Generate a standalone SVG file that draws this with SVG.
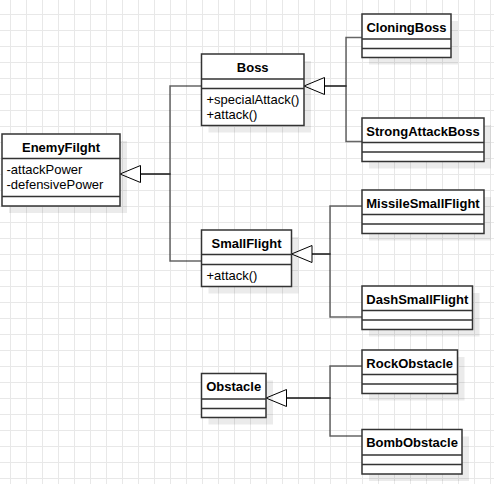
<svg xmlns="http://www.w3.org/2000/svg" width="494" height="484" viewBox="0 0 494 484">
  <style>
    .box { fill: #ffffff; stroke: #333333; stroke-width: 1.5; }
    .shadow { fill: #000000; fill-opacity: 0.08; stroke: none; }
    .sep { stroke: #333333; stroke-width: 1.5; fill: none; }
    .name { font-family: "Liberation Sans", Arial, sans-serif; font-size: 13px; font-weight: bold; fill: #000000; text-anchor: middle; }
    .member { font-family: "Liberation Sans", Arial, sans-serif; font-size: 13px; fill: #000000; }
    .edge { fill: none; stroke: #000000; stroke-opacity: 0.6; stroke-width: 1.5; }
    .tri { fill: #ffffff; stroke: #000000; stroke-width: 1; }
  </style>
  <defs>
    <pattern id="grid" patternUnits="userSpaceOnUse" x="10" y="14" width="16" height="16">
      <path d="M0.5 0 V16 M0 0.5 H16" stroke="#e8e8e8" stroke-width="1" fill="none"/>
    </pattern>
  </defs>
  <rect x="0" y="0" width="494" height="484" fill="#ffffff"/>
  <rect x="0" y="0" width="494" height="484" fill="url(#grid)"/>

  <g id="connectors">
    <path class="edge" d="M201.5 86 H170 V174 H140.5"/>
    <path class="edge" d="M201.5 261 H170 V174 H140.5"/>
    <path class="edge" d="M362 37.5 H346 V86 H324.5"/>
    <path class="edge" d="M362 141.5 H346 V86 H324.5"/>
    <path class="edge" d="M362 206 H330 V254 H312"/>
    <path class="edge" d="M362 317 H330 V254 H312"/>
    <path class="edge" d="M362 366 H330 V398 H286.5"/>
    <path class="edge" d="M362 436 H330 V398 H286.5"/>
    <polygon class="tri" points="120,174 140.5,165.5 140.5,182.5"/>
    <polygon class="tri" points="304,86 324.5,77.5 324.5,94.5"/>
    <polygon class="tri" points="291.5,254 312,245.5 312,262.5"/>
    <polygon class="tri" points="266,398 286.5,389.5 286.5,406.5"/>
  </g>

  <g id="EnemyFilght">
    <rect class="shadow" x="9" y="141" width="118" height="72"/>
    <rect class="box" x="2" y="134" width="118" height="72"/>
    <path class="sep" d="M2 158.5 H120 M2 196.5 H120"/>
    <text class="name" x="61" y="151.5">EnemyFilght</text>
    <text class="member" x="6.5" y="174">-attackPower</text>
    <text class="member" x="6.5" y="188.5">-defensivePower</text>
  </g>

  <g id="Boss">
    <rect class="shadow" x="208.5" y="61" width="102.5" height="71.5"/>
    <rect class="box" x="201.5" y="54" width="102.5" height="71.5"/>
    <path class="sep" d="M201.5 79 H304 M201.5 88.5 H304"/>
    <text class="name" x="252.7" y="71.7">Boss</text>
    <text class="member" x="206.5" y="104">+specialAttack()</text>
    <text class="member" x="206.5" y="118.5">+attack()</text>
  </g>

  <g id="CloningBoss">
    <rect class="shadow" x="369" y="21" width="89" height="43.5"/>
    <rect class="box" x="362" y="14" width="89" height="43.5"/>
    <path class="sep" d="M362 39 H451 M362 48.5 H451"/>
    <text class="name" x="406.5" y="31.7">CloningBoss</text>
  </g>

  <g id="StrongAttackBoss">
    <rect class="shadow" x="369" y="125" width="122" height="43.5"/>
    <rect class="box" x="362" y="118" width="122" height="43.5"/>
    <path class="sep" d="M362 142.5 H484 M362 152 H484"/>
    <text class="name" x="423" y="135.7">StrongAttackBoss</text>
  </g>

  <g id="SmallFlight">
    <rect class="shadow" x="208.5" y="237" width="90" height="56.5"/>
    <rect class="box" x="201.5" y="230" width="90" height="56.5"/>
    <path class="sep" d="M201.5 254.5 H291.5 M201.5 264.5 H291.5"/>
    <text class="name" x="246.5" y="247.5">SmallFlight</text>
    <text class="member" x="206.5" y="280">+attack()</text>
  </g>

  <g id="MissileSmallFlight">
    <rect class="shadow" x="369" y="197" width="122" height="43.5"/>
    <rect class="box" x="362" y="190" width="122" height="43.5"/>
    <path class="sep" d="M362 214.5 H484 M362 224 H484"/>
    <text class="name" x="423" y="207.7">MissileSmallFlight</text>
  </g>

  <g id="DashSmallFlight">
    <rect class="shadow" x="369" y="293" width="110.5" height="43.5"/>
    <rect class="box" x="362" y="286" width="110.5" height="43.5"/>
    <path class="sep" d="M362 310.5 H472.5 M362 320 H472.5"/>
    <text class="name" x="417.3" y="303.7">DashSmallFlight</text>
  </g>

  <g id="Obstacle">
    <rect class="shadow" x="208.5" y="380.5" width="64.5" height="44"/>
    <rect class="box" x="201.5" y="373.5" width="64.5" height="44"/>
    <path class="sep" d="M201.5 399 H266 M201.5 408.5 H266"/>
    <text class="name" x="233.7" y="391.3">Obstacle</text>
  </g>

  <g id="RockObstacle">
    <rect class="shadow" x="369" y="357" width="95.5" height="43.5"/>
    <rect class="box" x="362" y="350" width="95.5" height="43.5"/>
    <path class="sep" d="M362 374.5 H457.5 M362 384 H457.5"/>
    <text class="name" x="409.7" y="367.7">RockObstacle</text>
  </g>

  <g id="BombObstacle">
    <rect class="shadow" x="369" y="436.5" width="100" height="44.5"/>
    <rect class="box" x="362" y="429.5" width="100" height="44.5"/>
    <path class="sep" d="M362 455 H462 M362 464.5 H462"/>
    <text class="name" x="412" y="447.3">BombObstacle</text>
  </g>
</svg>
